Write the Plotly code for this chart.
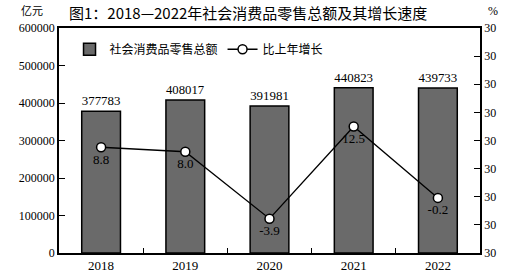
import plotly.graph_objects as go

years = ["2018", "2019", "2020", "2021", "2022"]
sales = [377783, 408017, 391981, 440823, 439733]
growth = [8.8, 8.0, -3.9, 12.5, -0.2]
left_ticks = [0, 100000, 200000, 300000, 400000, 500000, 600000]
right_tickvals = [-10, -5, 0, 5, 10, 15, 20, 25, 30]
right_ticktext = ["30"] * 9

serif = "Liberation Serif"
cjk = "Noto Sans CJK SC"

fig = go.Figure()
fig.add_trace(go.Bar(
    x=years, y=sales, name="社会消费品零售总额",
    marker=dict(color="#6a6a6a", line=dict(color="black", width=1.5)),
    width=0.46,
    text=[str(v) for v in sales], textposition="outside",
    textfont=dict(family=serif, size=13, color="black"),
    cliponaxis=False,
))
fig.add_trace(go.Scatter(
    x=years, y=growth, name="比上年增长", yaxis="y2",
    mode="lines+markers+text",
    line=dict(color="black", width=1.3),
    marker=dict(symbol="circle", size=9, color="white", line=dict(color="black", width=1.5)),
    text=[f"{v:.1f}" for v in growth], textposition="bottom center",
    textfont=dict(family=serif, size=13, color="black"),
    cliponaxis=False,
))

fig.update_layout(
    width=506, height=272,
    margin=dict(l=59, r=26, t=28, b=19, autoexpand=False),
    paper_bgcolor="white", plot_bgcolor="white",
    showlegend=True,
    legend=dict(orientation="h", x=0.025, y=0.97, xanchor="left", yanchor="top",
                font=dict(family=cjk, size=12, color="black"),
                bgcolor="rgba(0,0,0,0)", itemwidth=30, tracegroupgap=0),
    xaxis=dict(
        showline=True, linecolor="black", linewidth=1.5, mirror=True,
        ticks="inside", ticklen=5, tickcolor="black", tickson="boundaries",
        tickfont=dict(family=serif, size=13, color="black"),
        showgrid=False, automargin=False,
    ),
    yaxis=dict(
        range=[0, 600000], tickvals=left_ticks,
        ticktext=[str(v) for v in left_ticks],
        showline=True, linecolor="black", linewidth=1.5,
        ticks="inside", ticklen=6, tickcolor="black",
        tickfont=dict(family=serif, size=12, color="black"),
        showgrid=False, zeroline=False, automargin=False,
    ),
    yaxis2=dict(
        range=[-10, 30], overlaying="y", side="right",
        tickvals=right_tickvals, ticktext=right_ticktext,
        showline=True, linecolor="black", linewidth=1.5,
        ticks="inside", ticklen=6, tickcolor="black",
        tickfont=dict(family=serif, size=12, color="black"),
        showgrid=False, zeroline=False, automargin=False,
    ),
    annotations=[
        dict(text="图1：2018—2022年社会消费品零售总额及其增长速度", x=0.449, y=1.0,
             xref="paper", yref="paper", xanchor="center", yanchor="bottom", yshift=3,
             showarrow=False, font=dict(family=cjk, size=15, color="black")),
        dict(text="亿元", x=0, y=1.0, xref="paper", yref="paper", xanchor="right",
             yanchor="bottom", xshift=-14, yshift=8, showarrow=False,
             font=dict(family=cjk, size=11, color="black")),
        dict(text="%", x=1, y=1.0, xref="paper", yref="paper", xanchor="left",
             yanchor="bottom", xshift=6, yshift=8, showarrow=False,
             font=dict(family=serif, size=12, color="black")),
    ],
)

fig.write_html("out.html", config={"displayModeBar": False},
               post_script="document.body.style.margin='0';document.body.style.padding='0';")
